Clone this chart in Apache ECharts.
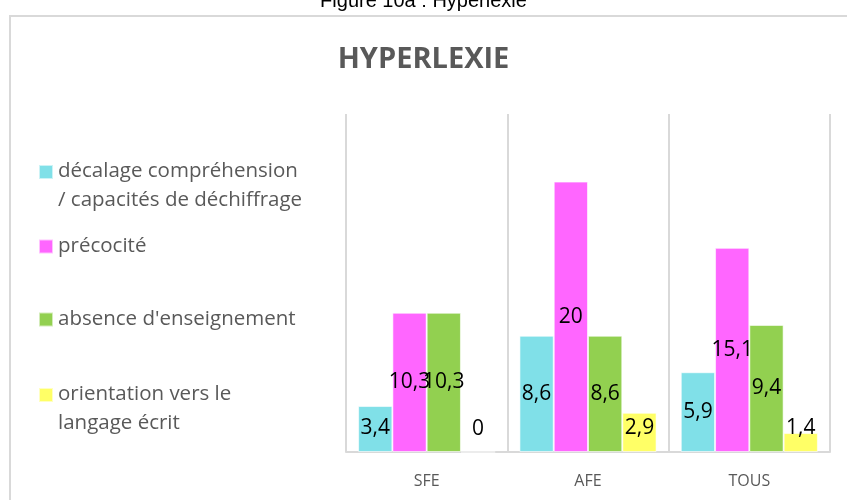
<!DOCTYPE html>
<html>
<head>
<meta charset="utf-8">
<script src="https://cdn.jsdelivr.net/npm/echarts@6/dist/echarts.min.js"></script>
<style>
html, body { margin: 0; padding: 0; background: #fff; }
#chart { width: 847px; height: 500px; }
</style>
</head>
<body>
<div id="chart"></div>
<script>
// données
var categories = ['SFE', 'AFE', 'TOUS'];
var seriesNames = [
    'décalage compréhension\n/ capacités de déchiffrage',
    'précocité',
    "absence d'enseignement",
    'orientation vers le\nlangage écrit'
];
var decalage = [3.4, 8.6, 5.9];
var precocite = [10.3, 20, 15.1];
var absence = [10.3, 8.6, 9.4];
var orientation = [0, 2.9, 1.4];
var seriesColors = ['#80e0e8', '#ff66ff', '#92d050', '#ffff66'];

var allValues = [decalage, precocite, absence, orientation];
var textGrey = '#595959';
var lineGrey = '#d9d9d9';

// position des légendes (à la main, comme dans Excel)
var legendTops = [157, 232, 305, 380];

function buildData(values){
    return values.map(function(v){
        var item = { value: v };
        if (v < 4) {
            // petites barres : étiquette posée au-dessus de la base
            item.label = { position: 'insideBottom', distance: 13 };
        }
        return item;
    });
}

var legends = seriesNames.map(function(name, i){
    var twoLines = name.indexOf('\n') >= 0;
    return {
        left: 38,
        top: legendTops[i],
        padding: 0,
        orient: 'vertical',
        selectedMode: false,
        data: [name],
        itemWidth: 14,
        itemHeight: twoLines ? 42 : 14,
        icon: twoLines ? 'path://M0,0L14,0L14,14L0,14Z M0,42L0.01,42' : 'rect',
        itemGap: 0,
        textStyle: {
            color: textGrey,
            fontSize: 20.5,
            lineHeight: 29,
            fontFamily: 'Open Sans'
        }
    };
});

var series = seriesNames.map(function(name, i){
    return {
        name: name,
        type: 'bar',
        data: buildData(allValues[i]),
        barGap: '0%',
        barCategoryGap: '15%',
        itemStyle: { color: seriesColors[i], borderColor: 'rgba(255,255,255,0.6)', borderWidth: 1 },
        label: {
            show: true,
            position: 'inside',
            color: '#000',
            fontSize: 21,
            fontFamily: 'Open Sans',
            formatter: function(p){ return String(p.value).replace('.', ','); }
        }
    };
});

var option = {
    backgroundColor: '#fff',
    animation: false,
    title: [{
        text: 'Figure 10a : Hyperlexie',
        left: 'center',
        top: -14,
        textStyle: { color: '#000', fontWeight: 'normal', fontSize: 20, fontFamily: 'Liberation Sans' }
    }, {
        text: 'HYPERLEXIE',
        left: 'center',
        top: 40,
        textStyle: { color: textGrey, fontWeight: 'bold', fontSize: 29, fontFamily: 'Open Sans' }
    }],
    legend: legends,
    graphic: [{
        type: 'rect',
        shape: { x: 10, y: 16, width: 860, height: 500 },
        style: { fill: 'none', stroke: lineGrey, lineWidth: 2 },
        silent: true
    }],
    grid: { left: 346, right: 17, top: 114, bottom: 48 },
    xAxis: {
        type: 'category',
        data: categories,
        axisLine: { lineStyle: { color: lineGrey, width: 2 } },
        axisTick: { show: false },
        splitLine: { show: true, lineStyle: { color: lineGrey, width: 2 } },
        axisLabel: { color: textGrey, fontSize: 16, margin: 21, fontFamily: 'Open Sans' }
    },
    yAxis: {
        type: 'value',
        min: 0,
        max: 25,
        show: false
    },
    series: series
};

var chartObj = echarts.init(document.getElementById('chart'));
chartObj.setOption(option);
</script>
</body>
</html>
